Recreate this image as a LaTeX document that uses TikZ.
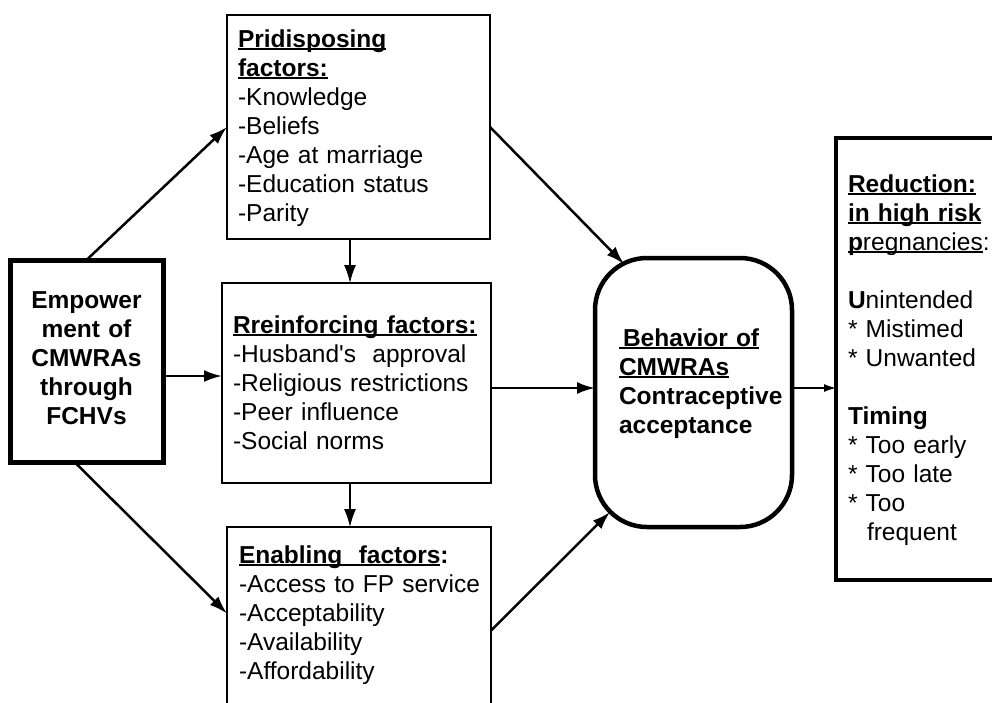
\documentclass[tikz,border=0pt]{standalone}
\usepackage{fontspec}
\setmainfont{Liberation Sans}
\usetikzlibrary{arrows.meta,calc}
\newsavebox\ulbox
\newcommand\ulx[1]{\leavevmode\sbox\ulbox{#1}\rlap{\rule[-3pt]{\wd\ulbox}{1.8pt}}\usebox\ulbox}
\tikzset{
  fbox/.style={draw, line width=2pt, inner sep=0pt, outer sep=0pt},
  tbox/.style={draw, line width=4.5pt, inner sep=0pt, outer sep=0pt},
  txt/.style={inner sep=0pt, outer sep=0pt, anchor=base west, align=left,
              font=\fontsize{24.5}{29}\selectfont},
  arr/.style={line width=2.5pt, -{Latex[length=18pt,width=12pt]}},
  varr/.style={line width=1.5pt, -{Latex[length=18pt,width=12pt]}},
  sarr/.style={line width=1.2pt, -{Latex[length=12pt,width=8pt]}}
}
\begin{document}
\begin{tikzpicture}[x=1pt,y=-1pt]
\clip (0,0) rectangle (992,702);
\fill[white] (0,0) rectangle (992,702);

% boxes
\node[fbox, minimum width=263pt, minimum height=224pt] (prid) at (358.5,127) {};
\node[fbox, minimum width=269pt, minimum height=200pt] (reinf) at (356.5,383) {};
\node[fbox, minimum width=264pt, minimum height=183pt] (enab) at (359,618.5) {};
\node[tbox, line width=5pt, minimum width=153pt, minimum height=202pt] (emp) at (86.5,361) {};
\node[tbox, rounded corners=52pt, minimum width=197pt, minimum height=269pt] (oval) at (693.5,392.5) {};
\node[tbox, minimum width=174pt, minimum height=442pt] (res) at (923,359) {};

% texts
\node[txt, text width=250pt] (pridT) at (238,47)
  {\textbf{\ulx{Pridisposing}}\\\textbf{\ulx{factors:}}\\-Knowledge\\-Beliefs\\-Age at marriage\\-Education status\\-Parity};
\node[txt, text width=260pt] (reinfT) at (233,333)
  {\textbf{\ulx{Rreinforcing factors:}}\\-Husband\textquotesingle s\ \ approval\\-Religious restrictions\\-Peer influence\\-Social norms};
\node[txt, text width=255pt] (enabT) at (239,563)
  {\textbf{\ulx{Enabling\ \ factors}:}\\-Access to FP service\\-Acceptability\\-Availability\\-Affordability};
\node[txt, text width=150pt, align=center, anchor=base] (empT) at (86.5,308)
  {\textbf{Empower}\\\textbf{ment of}\\\textbf{CMWRAs}\\\textbf{through}\\\textbf{FCHVs}};
\node[txt, text width=180pt] (ovalT) at (619,346)
  {\textbf{\ulx{\hspace{4pt}Behavior of}}\\\textbf{\ulx{CMWRAs}}\\\textbf{Contraceptive}\\\textbf{acceptance}};
\node[txt, text width=160pt] (resT) at (848,192)
  {\textbf{\ulx{Reduction:}}\\\textbf{\ulx{in high risk}}\\\ulx{\textbf{p}regnancies}:\\[29pt]\textbf{U}nintended\\{*} Mistimed\\{*} Unwanted\\[29pt]\textbf{Timing}\\{*} Too early\\{*} Too late\\{*} Too\\\hspace*{19pt}frequent};

% connector end points
\coordinate (vx) at (350,0);
\coordinate (e1) at ([yshift=-15pt]emp.east);
\coordinate (ovTL) at (624,264);
\coordinate (ovBL) at (610,512);
\coordinate (r1) at ([yshift=-5pt]reinf.east);
\coordinate (o1) at ([yshift=4.5pt]oval.east);
\coordinate (en1) at ([yshift=-12pt]enab.east);

% connectors
\draw[arr] (emp.north) -- (prid.west);
\draw[arr] (e1) -- (e1 -| reinf.west);
\draw[arr] ([xshift=-12pt]emp.south) -- ([yshift=5pt]enab.west);
\draw[varr] (prid.south -| vx) -- (reinf.north -| vx);
\draw[varr] (reinf.south -| vx) -- (enab.north -| vx);
\draw[arr] (prid.east) -- (ovTL);
\draw[arr] (r1) -- (r1 -| oval.west);
\draw[arr] (en1) -- (ovBL);
\draw[sarr] (o1) -- (o1 -| res.west);
\end{tikzpicture}
\end{document}
